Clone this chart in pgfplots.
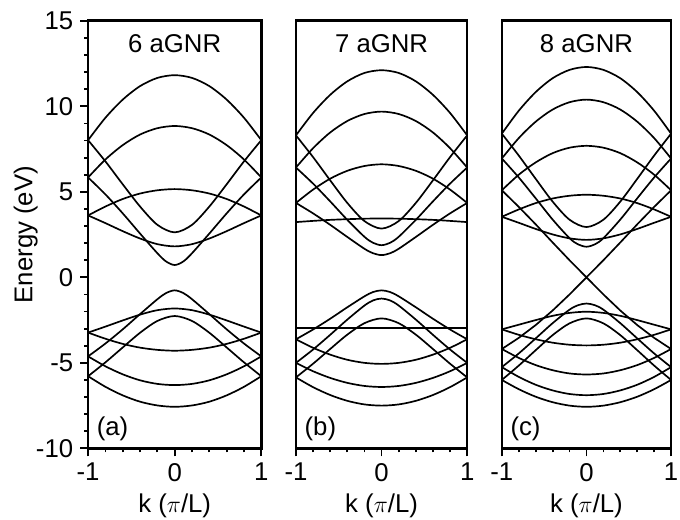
\documentclass[border=0pt]{standalone}
\usepackage{fontspec}
\setmainfont{Liberation Sans}
\usepackage{pgfplots}
\usepackage{pgfplotstable}
\pgfplotsset{compat=1.18}

% Band energies (eV) of armchair graphene nanoribbons versus k (pi/L).
% C = conduction bands, V = valence bands, M/MV = linear (metallic) bands.
\pgfplotstableread{
x     C1    C2   C3   C4   C5   C6   V1    V2    V3    V4    V5    V6
-1    8.02  8.02 5.84 5.84 3.62 3.62 -5.78 -5.78 -4.62 -4.62 -3.23 -3.23
-0.8  9.33  6.78 6.89 4.85 4.14 3.17 -6.40 -4.97 -5.20 -3.87 -3.59 -2.88
-0.6  10.39 5.44 7.73 3.74 4.58 2.70 -6.90 -4.10 -5.67 -3.04 -3.89 -2.52
-0.4  11.18 4.14 8.35 2.56 4.90 2.27 -7.27 -3.24 -6.02 -2.15 -4.11 -2.18
-0.2  11.66 3.07 8.72 1.41 5.09 1.94 -7.49 -2.55 -6.23 -1.28 -4.24 -1.92
-0.1  nan   nan  nan  0.93 nan  nan  nan   nan   nan   -0.92 nan   nan
0     11.82 2.63 8.85 0.72 5.16 1.81 -7.57 -2.26 -6.30 -0.76 -4.29 -1.82
0.1   nan   nan  nan  0.93 nan  nan  nan   nan   nan   -0.92 nan   nan
0.2   11.66 3.07 8.72 1.41 5.09 1.94 -7.49 -2.55 -6.23 -1.28 -4.24 -1.92
0.4   11.18 4.14 8.35 2.56 4.90 2.27 -7.27 -3.24 -6.02 -2.15 -4.11 -2.18
0.6   10.39 5.44 7.73 3.74 4.58 2.70 -6.90 -4.10 -5.67 -3.04 -3.89 -2.52
0.8   9.33  6.78 6.89 4.85 4.14 3.17 -6.40 -4.97 -5.20 -3.87 -3.59 -2.88
1     8.02  8.02 5.84 5.84 3.62 3.62 -5.78 -5.78 -4.62 -4.62 -3.23 -3.23
}\bandsA

\pgfplotstableread{
x     C1    C2   C3   C4   C5   C6   C7   V1    V2    V3    V4    V5    V6    V7
-1    8.30  8.30 6.42 6.42 4.35 4.35 3.23 -5.85 -5.85 -5.00 -5.00 -3.62 -3.62 -2.97
-0.8  9.61  7.03 7.55 5.48 5.13 3.74 3.30 -6.42 -5.05 -5.49 -4.22 -4.12 -3.05 -2.97
-0.6  10.67 5.67 8.47 4.44 5.77 3.07 3.36 -6.88 -4.19 -5.88 -3.36 -4.52 -2.42 -2.97
-0.4  11.46 4.35 9.14 3.36 6.23 2.36 3.40 -7.22 -3.35 -6.17 -2.47 -4.82 -1.75 -2.97
-0.2  11.95 3.29 9.55 2.37 6.51 1.67 3.43 -7.43 -2.68 -6.35 -1.65 -5.00 -1.11 -2.97
-0.1  nan   nan  nan  2.02 nan  1.41 nan  nan   nan   nan   -1.35 nan   -0.86 nan
0     12.11 2.85 9.69 1.88 6.61 1.30 3.44 -7.50 -2.40 -6.41 -1.24 -5.06 -0.76 -2.97
0.1   nan   nan  nan  2.02 nan  1.41 nan  nan   nan   nan   -1.35 nan   -0.86 nan
0.2   11.95 3.29 9.55 2.37 6.51 1.67 3.43 -7.43 -2.68 -6.35 -1.65 -5.00 -1.11 -2.97
0.4   11.46 4.35 9.14 3.36 6.23 2.36 3.40 -7.22 -3.35 -6.17 -2.47 -4.82 -1.75 -2.97
0.6   10.67 5.67 8.47 4.44 5.77 3.07 3.36 -6.88 -4.19 -5.88 -3.36 -4.52 -2.42 -2.97
0.8   9.61  7.03 7.55 5.48 5.13 3.74 3.30 -6.42 -5.05 -5.49 -4.22 -4.12 -3.05 -2.97
1     8.30  8.30 6.42 6.42 4.35 4.35 3.23 -5.85 -5.85 -5.00 -5.00 -3.62 -3.62 -2.97
}\bandsB

\pgfplotstableread{
x     C1    C2   C3    C4   C5   C7   C8   M    V1    V2    V3    V4    V5    V7    V8    MV
-1    8.40  8.40 6.95  6.95 5.09 3.54 3.54 5.09 -6.00 -6.00 -5.25 -5.25 -4.19 -3.04 -3.04 -4.19
-0.8  9.74  7.12 8.14  5.84 6.00 3.97 3.19 4.12 -6.54 -5.16 -5.82 -4.45 -4.71 -3.36 -2.77 -3.54
-0.6  10.83 5.76 9.10  4.62 6.72 4.34 2.83 3.10 -6.98 -4.26 -6.28 -3.57 -5.13 -3.62 -2.50 -2.79
-0.4  11.64 4.43 9.81  3.38 7.26 4.61 2.51 2.04 -7.30 -3.38 -6.61 -2.68 -5.43 -3.82 -2.25 -1.94
-0.2  12.13 3.37 10.24 2.29 7.58 4.77 2.28 1.00 -7.50 -2.69 -6.82 -1.89 -5.62 -3.94 -2.08 -1.00
-0.1  nan   nan  nan   1.93 nan  nan  nan  0.50 nan   nan   nan   -1.63 nan   nan   nan   -0.50
0     12.30 2.94 10.39 1.79 7.69 4.83 2.19 0.00 -7.57 -2.40 -6.89 -1.53 -5.68 -3.98 -2.01 0.00
0.1   nan   nan  nan   1.93 nan  nan  nan  0.50 nan   nan   nan   -1.63 nan   nan   nan   -0.50
0.2   12.13 3.37 10.24 2.29 7.58 4.77 2.28 1.00 -7.50 -2.69 -6.82 -1.89 -5.62 -3.94 -2.08 -1.00
0.4   11.64 4.43 9.81  3.38 7.26 4.61 2.51 2.04 -7.30 -3.38 -6.61 -2.68 -5.43 -3.82 -2.25 -1.94
0.6   10.83 5.76 9.10  4.62 6.72 4.34 2.83 3.10 -6.98 -4.26 -6.28 -3.57 -5.13 -3.62 -2.50 -2.79
0.8   9.74  7.12 8.14  5.84 6.00 3.97 3.19 4.12 -6.54 -5.16 -5.82 -4.45 -4.71 -3.36 -2.77 -3.54
1     8.40  8.40 6.95  6.95 5.09 3.54 3.54 5.09 -6.00 -6.00 -5.25 -5.25 -4.19 -3.04 -3.04 -4.19
}\bandsC

\tikzset{tag/.style={font=\fontsize{13}{15}\selectfont}}

\pgfplotsset{
  gnr/.style={
    scale only axis,
    height=216pt,
    anchor=south west,
    xmin=-1, xmax=1, ymin=-10, ymax=15,
    xtick={-1,0,1}, minor x tick num=4,
    xtick pos=bottom, ytick pos=left,
    tick align=outside,
    major tick length=4pt, minor tick length=2pt,
    axis line style={line width=1.3pt},
    every tick/.style={black, line width=0.9pt},
    tick label style={font=\fontsize{13}{15}\selectfont},
    label style={font=\fontsize{13}{15}\selectfont},
    /pgf/number format/assume math mode=true,
    xlabel={k ($\pi$/L)},
    x label style={at={(axis description cs:0.5,-0.134)}, anchor=center},
    unbounded coords=discard,
  },
  band/.style={black, line width=0.85pt, smooth, mark=none},
  lin/.style={black, line width=0.85pt, sharp plot, mark=none},
}

\begin{document}
\begin{tikzpicture}
% (a) 6 aGNR
\begin{axis}[gnr, at={(44.5pt,36pt)}, width=87.5pt,
  ytick={-10,-5,0,5,10,15}, minor y tick num=4,
  ylabel={Energy (eV)},
  y label style={at={(axis description cs:-0.36,0.5)}, anchor=center}]
  \pgfplotsinvokeforeach{C1,C2,C3,C4,C5,C6,V1,V2,V3,V4,V5,V6}{
    \addplot[band] table[x=x, y=#1] {\bandsA};
  }
  \node[tag] at (axis description cs:0.5,0.947) {6 aGNR};
  \node[tag, anchor=west] at (axis description cs:0.01,0.046) {(a)};
\end{axis}
% (b) 7 aGNR
\begin{axis}[gnr, at={(149.5pt,36pt)}, width=86.5pt, ytick=\empty]
  \pgfplotsinvokeforeach{C1,C2,C3,C4,C5,C6,C7,V1,V2,V3,V4,V5,V6,V7}{
    \addplot[band] table[x=x, y=#1] {\bandsB};
  }
  \node[tag] at (axis description cs:0.5,0.947) {7 aGNR};
  \node[tag, anchor=west] at (axis description cs:0.01,0.046) {(b)};
\end{axis}
% (c) 8 aGNR
\begin{axis}[gnr, at={(253.5pt,36pt)}, width=85.5pt, ytick=\empty]
  \pgfplotsinvokeforeach{C1,C2,C3,C4,C5,C7,C8,V1,V2,V3,V4,V5,V7,V8}{
    \addplot[band] table[x=x, y=#1] {\bandsC};
  }
  \addplot[lin] table[x=x, y=M] {\bandsC};
  \addplot[lin] table[x=x, y=MV] {\bandsC};
  \node[tag] at (axis description cs:0.5,0.947) {8 aGNR};
  \node[tag, anchor=west] at (axis description cs:0.01,0.046) {(c)};
\end{axis}
\pgfresetboundingbox
\path[use as bounding box] (0,0) rectangle (343.5pt,262.5pt);
\end{tikzpicture}
\end{document}
